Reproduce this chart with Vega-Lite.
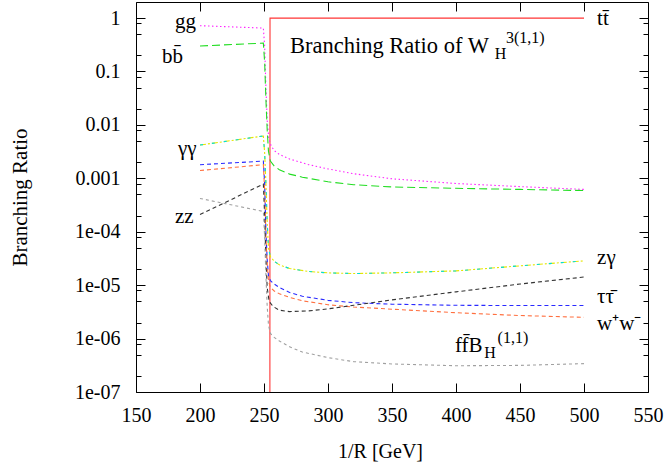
{
  "$schema": "https://vega.github.io/schema/vega-lite/v6.json",
  "width": 512,
  "height": 390,
  "autosize": {"type": "none"},
  "padding": {"left": 136, "top": 2, "right": 19, "bottom": 72},
  "background": "white",
  "config": {
    "view": {"stroke": "#000000", "strokeWidth": 1},
    "font": "Liberation Serif"
  },
  "datasets": {
    "curves": [
      {"s": "tt", "x": 254.6, "y": 1e-7},
      {"s": "tt", "x": 254.7, "y": 1},
      {"s": "tt", "x": 500, "y": 1},

      {"s": "gg", "x": 200, "y": 0.72},
      {"s": "gg", "x": 249.5, "y": 0.65},
      {"s": "gg", "x": 250.5, "y": 0.3},
      {"s": "gg", "x": 251.5, "y": 0.05},
      {"s": "gg", "x": 252.5, "y": 0.012},
      {"s": "gg", "x": 253.8, "y": 0.0055},
      {"s": "gg", "x": 255.5, "y": 0.0041},
      {"s": "gg", "x": 258, "y": 0.0033},
      {"s": "gg", "x": 262, "y": 0.0028},
      {"s": "gg", "x": 270, "y": 0.0023},
      {"s": "gg", "x": 285, "y": 0.0018},
      {"s": "gg", "x": 300, "y": 0.0015},
      {"s": "gg", "x": 320, "y": 0.00122},
      {"s": "gg", "x": 350, "y": 0.00098},
      {"s": "gg", "x": 400, "y": 0.0008},
      {"s": "gg", "x": 450, "y": 0.0007},
      {"s": "gg", "x": 500, "y": 0.00062},

      {"s": "bb", "x": 200, "y": 0.30},
      {"s": "bb", "x": 249.5, "y": 0.34},
      {"s": "bb", "x": 250.5, "y": 0.15},
      {"s": "bb", "x": 251.5, "y": 0.03},
      {"s": "bb", "x": 252.5, "y": 0.008},
      {"s": "bb", "x": 253.5, "y": 0.0032},
      {"s": "bb", "x": 255, "y": 0.0021},
      {"s": "bb", "x": 258, "y": 0.0017},
      {"s": "bb", "x": 262, "y": 0.00145},
      {"s": "bb", "x": 270, "y": 0.0012},
      {"s": "bb", "x": 280, "y": 0.00105},
      {"s": "bb", "x": 300, "y": 0.00086},
      {"s": "bb", "x": 320, "y": 0.00076},
      {"s": "bb", "x": 350, "y": 0.00069},
      {"s": "bb", "x": 400, "y": 0.00065},
      {"s": "bb", "x": 450, "y": 0.00062},
      {"s": "bb", "x": 500, "y": 0.00059},

      {"s": "gam", "x": 200, "y": 0.0042},
      {"s": "gam", "x": 249.5, "y": 0.0062},
      {"s": "gam", "x": 250.5, "y": 0.003},
      {"s": "gam", "x": 251.5, "y": 0.0008},
      {"s": "gam", "x": 252.5, "y": 0.00015},
      {"s": "gam", "x": 253.5, "y": 5e-5},
      {"s": "gam", "x": 255, "y": 3.4e-5},
      {"s": "gam", "x": 258, "y": 2.8e-5},
      {"s": "gam", "x": 262, "y": 2.4e-5},
      {"s": "gam", "x": 270, "y": 2.05e-5},
      {"s": "gam", "x": 285, "y": 1.8e-5},
      {"s": "gam", "x": 300, "y": 1.7e-5},
      {"s": "gam", "x": 320, "y": 1.65e-5},
      {"s": "gam", "x": 350, "y": 1.7e-5},
      {"s": "gam", "x": 400, "y": 1.85e-5},
      {"s": "gam", "x": 450, "y": 2.3e-5},
      {"s": "gam", "x": 500, "y": 2.85e-5},

      {"s": "zgam", "x": 200, "y": 0.0042},
      {"s": "zgam", "x": 249.5, "y": 0.0062},
      {"s": "zgam", "x": 250.5, "y": 0.003},
      {"s": "zgam", "x": 251.5, "y": 0.0008},
      {"s": "zgam", "x": 252.5, "y": 0.00015},
      {"s": "zgam", "x": 253.5, "y": 5e-5},
      {"s": "zgam", "x": 255, "y": 3.4e-5},
      {"s": "zgam", "x": 258, "y": 2.8e-5},
      {"s": "zgam", "x": 262, "y": 2.4e-5},
      {"s": "zgam", "x": 270, "y": 2.05e-5},
      {"s": "zgam", "x": 285, "y": 1.8e-5},
      {"s": "zgam", "x": 300, "y": 1.7e-5},
      {"s": "zgam", "x": 320, "y": 1.65e-5},
      {"s": "zgam", "x": 350, "y": 1.7e-5},
      {"s": "zgam", "x": 400, "y": 1.85e-5},
      {"s": "zgam", "x": 450, "y": 2.3e-5},
      {"s": "zgam", "x": 500, "y": 2.85e-5},

      {"s": "tau", "x": 200, "y": 0.0018},
      {"s": "tau", "x": 249.5, "y": 0.0021},
      {"s": "tau", "x": 250.5, "y": 0.0008},
      {"s": "tau", "x": 251.5, "y": 0.0001},
      {"s": "tau", "x": 252.5, "y": 3e-5},
      {"s": "tau", "x": 253.5, "y": 1.5e-5},
      {"s": "tau", "x": 255, "y": 1.22e-5},
      {"s": "tau", "x": 258, "y": 1.05e-5},
      {"s": "tau", "x": 262, "y": 9e-6},
      {"s": "tau", "x": 270, "y": 7.3e-6},
      {"s": "tau", "x": 280, "y": 6.2e-6},
      {"s": "tau", "x": 300, "y": 5.2e-6},
      {"s": "tau", "x": 320, "y": 4.7e-6},
      {"s": "tau", "x": 350, "y": 4.4e-6},
      {"s": "tau", "x": 400, "y": 4.2e-6},
      {"s": "tau", "x": 450, "y": 4.15e-6},
      {"s": "tau", "x": 500, "y": 4.15e-6},

      {"s": "ww", "x": 200, "y": 0.0014},
      {"s": "ww", "x": 249.5, "y": 0.0018},
      {"s": "ww", "x": 250.5, "y": 0.0006},
      {"s": "ww", "x": 251.5, "y": 8e-5},
      {"s": "ww", "x": 252.5, "y": 2.5e-5},
      {"s": "ww", "x": 253.5, "y": 1.2e-5},
      {"s": "ww", "x": 255, "y": 9e-6},
      {"s": "ww", "x": 258, "y": 7.8e-6},
      {"s": "ww", "x": 262, "y": 6.9e-6},
      {"s": "ww", "x": 270, "y": 5.9e-6},
      {"s": "ww", "x": 280, "y": 5.1e-6},
      {"s": "ww", "x": 300, "y": 4.3e-6},
      {"s": "ww", "x": 320, "y": 3.9e-6},
      {"s": "ww", "x": 350, "y": 3.55e-6},
      {"s": "ww", "x": 400, "y": 3.05e-6},
      {"s": "ww", "x": 450, "y": 2.7e-6},
      {"s": "ww", "x": 500, "y": 2.5e-6},

      {"s": "zz", "x": 200, "y": 2.1e-4},
      {"s": "zz", "x": 249.5, "y": 7.8e-4},
      {"s": "zz", "x": 250.5, "y": 2e-4},
      {"s": "zz", "x": 251.5, "y": 3e-5},
      {"s": "zz", "x": 252.5, "y": 9e-6},
      {"s": "zz", "x": 254, "y": 5e-6},
      {"s": "zz", "x": 257, "y": 4e-6},
      {"s": "zz", "x": 262, "y": 3.4e-6},
      {"s": "zz", "x": 270, "y": 3.2e-6},
      {"s": "zz", "x": 285, "y": 3.3e-6},
      {"s": "zz", "x": 300, "y": 3.6e-6},
      {"s": "zz", "x": 320, "y": 4.2e-6},
      {"s": "zz", "x": 350, "y": 5.3e-6},
      {"s": "zz", "x": 400, "y": 7.5e-6},
      {"s": "zz", "x": 450, "y": 1.05e-5},
      {"s": "zz", "x": 500, "y": 1.42e-5},

      {"s": "ff", "x": 200, "y": 4.2e-4},
      {"s": "ff", "x": 249.5, "y": 2.4e-4},
      {"s": "ff", "x": 250.5, "y": 8e-5},
      {"s": "ff", "x": 251.5, "y": 1.5e-5},
      {"s": "ff", "x": 252.5, "y": 4e-6},
      {"s": "ff", "x": 253.5, "y": 1.8e-6},
      {"s": "ff", "x": 255, "y": 1.25e-6},
      {"s": "ff", "x": 258, "y": 1.05e-6},
      {"s": "ff", "x": 262, "y": 9e-7},
      {"s": "ff", "x": 270, "y": 7e-7},
      {"s": "ff", "x": 280, "y": 5.6e-7},
      {"s": "ff", "x": 300, "y": 4.4e-7},
      {"s": "ff", "x": 320, "y": 3.7e-7},
      {"s": "ff", "x": 350, "y": 3.35e-7},
      {"s": "ff", "x": 400, "y": 3.1e-7},
      {"s": "ff", "x": 450, "y": 3.15e-7},
      {"s": "ff", "x": 500, "y": 3.4e-7}
    ],
    "titleText": [
      {"t": "Branching Ratio of W", "x": 270.3, "y": 0.224}
    ],
    "bigText": [
      {"t": "gg", "x": 180.5, "y": 0.66},
      {"t": "bb̄", "x": 170.3, "y": 0.146},
      {"t": "γγ", "x": 182.8, "y": 0.00275},
      {"t": "zz", "x": 180.5, "y": 1.47e-4},
      {"t": "tt̄", "x": 510.2, "y": 0.75},
      {"t": "zγ", "x": 510.2, "y": 2.5e-5},
      {"t": "ττ̄", "x": 510.2, "y": 4.7e-6},
      {"t": "w⁺w⁻", "x": 510.2, "y": 1.45e-6},
      {"t": "ff̄B", "x": 399.2, "y": 5.6e-7}
    ],
    "smallText": [
      {"t": "H", "x": 430.2, "y": 0.173},
      {"t": "3(1,1)", "x": 439.0, "y": 0.345},
      {"t": "H", "x": 422, "y": 4.4e-7},
      {"t": "(1,1)", "x": 432.5, "y": 8.3e-7}
    ]
  },
  "resolve": {"axis": {"x": "independent", "y": "independent"}},
  "layer": [
    {
      "data": {"name": "curves"},
      "mark": {"type": "line", "strokeWidth": 1.1, "clip": true},
      "encoding": {
        "x": {
          "field": "x", "type": "quantitative",
          "scale": {"domain": [150, 550], "nice": false, "zero": false},
          "axis": {
            "orient": "bottom",
            "values": [150, 200, 250, 300, 350, 400, 450, 500, 550],
            "title": "1/R [GeV]",
            "grid": false, "domain": false,
            "tickSize": -9, "tickColor": "#000000", "tickWidth": 1,
            "labelPadding": 22, "labelFontSize": 20, "labelFont": "Liberation Serif", "labelColor": "#000000",
            "labelFlush": false, "labelOverlap": false,
            "titleFont": "Liberation Serif", "titleFontSize": 20, "titleFontWeight": "normal", "titleColor": "#000000",
            "titlePadding": 16, "titleX": 244
          }
        },
        "y": {
          "field": "y", "type": "quantitative",
          "scale": {"type": "log", "domain": [1e-7, 2], "nice": false},
          "axis": {
            "orient": "left",
            "values": [1e-7, 2e-7, 5e-7, 8e-7, 1e-6, 2e-6, 5e-6, 8e-6, 1e-5, 2e-5, 5e-5, 8e-5, 1e-4, 2e-4, 5e-4, 8e-4, 0.001, 0.002, 0.005, 0.008, 0.01, 0.02, 0.05, 0.08, 0.1, 0.2, 0.5, 0.8, 1],
            "labelExpr": "indexof([1,0.1,0.01,0.001,0.0001,0.00001,0.000001,0.0000001], datum.value) < 0 ? '' : (datum.value >= 0.001 ? format(datum.value, '') : '1e-0' + format(-log(datum.value)/LN10, '.0f'))",
            "title": "Branching Ratio",
            "grid": false, "domain": false,
            "tickSize": {"condition": {"test": "indexof([1,0.1,0.01,0.001,0.0001,0.00001,0.000001,0.0000001], datum.value) >= 0", "value": -9}, "value": -5},
            "tickColor": "#000000", "tickWidth": 1,
            "labelPadding": 25, "labelFontSize": 20, "labelFont": "Liberation Serif", "labelColor": "#000000",
            "labelFlush": false, "labelOverlap": false,
            "titleFont": "Liberation Serif", "titleFontSize": 21, "titleFontWeight": "normal", "titleColor": "#000000",
            "titlePadding": 44
          }
        },
        "color": {
          "field": "s", "type": "nominal", "legend": null,
          "scale": {
            "domain": ["tt", "gg", "bb", "gam", "zgam", "tau", "ww", "zz", "ff"],
            "range": ["#ff3535", "#ff22ff", "#22dd22", "#e6e600", "#00dddd", "#2a2aff", "#ff7040", "#333333", "#a0a0a0"]
          }
        },
        "strokeDash": {
          "field": "s", "type": "nominal", "legend": null,
          "scale": {
            "domain": ["tt", "gg", "bb", "gam", "zgam", "tau", "ww", "zz", "ff"],
            "range": [[1, 0], [1.5, 2.5], [8, 4], [6, 2, 2, 2], [3, 9], [4, 3], [4, 3], [4, 3], [3, 3]]
          }
        }
      }
    },
    {
      "data": {"name": "bigText"},
      "mark": {"type": "text", "align": "left", "baseline": "alphabetic", "font": "Liberation Serif", "fontSize": 21, "color": "#000000"},
      "encoding": {
        "x": {
          "field": "x", "type": "quantitative",
          "axis": {
            "orient": "top",
            "values": [150, 200, 250, 300, 350, 400, 450, 500, 550],
            "labels": false, "title": null, "grid": false, "domain": false,
            "tickSize": -9, "tickColor": "#000000", "tickWidth": 1
          }
        },
        "y": {
          "field": "y", "type": "quantitative",
          "axis": {
            "orient": "right",
            "values": [1e-7, 2e-7, 5e-7, 8e-7, 1e-6, 2e-6, 5e-6, 8e-6, 1e-5, 2e-5, 5e-5, 8e-5, 1e-4, 2e-4, 5e-4, 8e-4, 0.001, 0.002, 0.005, 0.008, 0.01, 0.02, 0.05, 0.08, 0.1, 0.2, 0.5, 0.8, 1],
            "labels": false, "title": null, "grid": false, "domain": false,
            "tickSize": {"condition": {"test": "indexof([1,0.1,0.01,0.001,0.0001,0.00001,0.000001,0.0000001], datum.value) >= 0", "value": -9}, "value": -5},
            "tickColor": "#000000", "tickWidth": 1
          }
        },
        "text": {"field": "t", "type": "nominal"}
      }
    },
    {
      "data": {"name": "titleText"},
      "mark": {"type": "text", "align": "left", "baseline": "alphabetic", "font": "Liberation Serif", "fontSize": 22.5, "color": "#000000"},
      "encoding": {
        "x": {"field": "x", "type": "quantitative", "axis": null},
        "y": {"field": "y", "type": "quantitative", "axis": null},
        "text": {"field": "t", "type": "nominal"}
      }
    },
    {
      "data": {"name": "smallText"},
      "mark": {"type": "text", "align": "left", "baseline": "alphabetic", "font": "Liberation Serif", "fontSize": 16, "color": "#000000"},
      "encoding": {
        "x": {"field": "x", "type": "quantitative", "axis": null},
        "y": {"field": "y", "type": "quantitative", "axis": null},
        "text": {"field": "t", "type": "nominal"}
      }
    }
  ]
}
